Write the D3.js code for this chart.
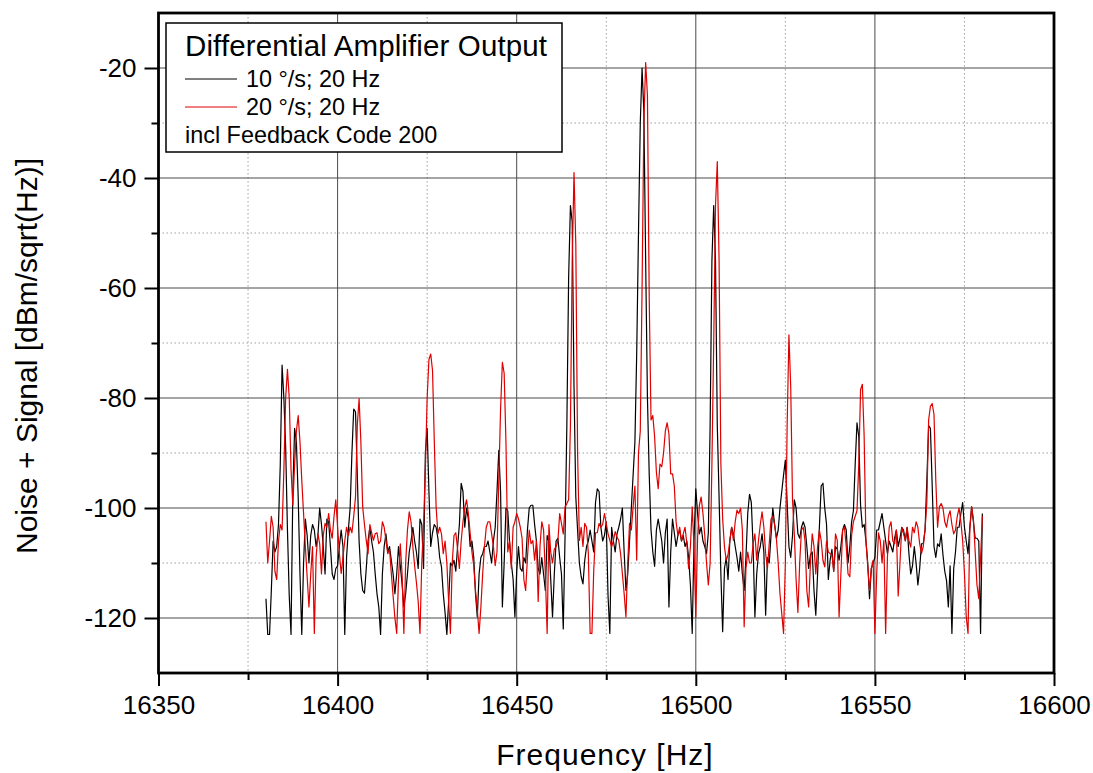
<!DOCTYPE html>
<html>
<head>
<meta charset="utf-8">
<script src="https://cdn.jsdelivr.net/npm/d3@7"></script>
<style>
  html, body { margin: 0; padding: 0; background: #fff; }
  svg { display: block; font-family: Arial, "Liberation Sans", sans-serif; }
</style>
</head>
<body>
<svg id="chart" width="1093" height="773"></svg>
<script>
// ---------------- data ----------------
const freqStart = 16380;   // Hz, first sample
const freqStep = 0.5;      // Hz between samples

const seriesNames = ["10 °/s; 20 Hz", "20 °/s; 20 Hz"];
const seriesColors = ["#000000", "#e00000"];

const black10 = [
-116.5,-123,-123,-115,-106,-108,-107,-103,-92,-74,
-80,-89,-104,-116,-123,-97,-85.5,-88,-98,-112,
-123,-110,-102,-105,-110,-105,-103,-104,-107,-105,
-100,-103,-107,-112,-102,-102.5,-107,-112,-113,-111,
-110.5,-107,-104,-107,-123,-109,-104,-100,-90,-82,
-82.5,-94,-106,-112,-115,-115.5,-111,-106,-103.5,-106,
-108,-112,-115.6,-118,-123,-112,-107,-104.7,-108,-107,
-109.5,-112,-115.6,-112,-107,-110.5,-113.8,-118,-115.6,-112,
-108,-106,-103.5,-106,-108,-111,-102,-103,-111,-90,
-85.5,-97,-107,-104.5,-103,-103.5,-105.5,-109,-110.7,-115.6,
-119,-123,-117,-110,-110.5,-109.5,-111.5,-107,-103,-95.5,
-97,-103.5,-100,-102,-107,-106,-108.9,-115.6,-119.8,-112,
-109,-108.3,-107,-107,-106,-108,-110,-106,-103.5,-97,
-89.5,-97,-118,-110,-100,-100.5,-106,-110,-113,-119.8,
-111.5,-107,-111,-111.5,-109,-110,-104,-100,-99.5,-99.5,
-103,-106,-111,-112,-109,-112,-115,-105,-106,-113,
-119.8,-112,-106,-105.5,-109,-112,-122,-105,-85,-58,
-45,-48,-78,-98,-104,-110,-112.5,-113.8,-109.5,-107,
-106,-104,-106,-108,-99,-96.5,-97,-103.5,-106,-105,
-102.5,-116,-122.8,-103.5,-106,-108,-104.7,-103.5,-102,-100,
-108,-115,-112,-106,-100,-94,-88,-72,-50,-30,
-20,-28,-55,-80,-94,-104,-108,-110.6,-104,-102,
-104,-106,-110,-104.5,-102,-118,-108,-102,-104.5,-107,
-105,-104,-106,-105,-107,-106,-109,-114,-122.8,-106,
-96.5,-101,-104.7,-103.5,-106,-107,-108.3,-104.5,-85,-55,
-45,-55,-85,-98,-112,-122.5,-111,-109,-113,-106,
-103.5,-104.7,-107,-109,-111.5,-108,-112,-115,-109,-101,
-97.5,-99,-107,-119.8,-112,-108.3,-107,-104.7,-108,-119.5,
-109,-110,-105,-100,-103,-105.5,-104,-100,-97,-94,
-91.3,-99,-107,-109,-105,-98.5,-100,-104.7,-105.5,-103.5,
-102.5,-103.5,-107,-111,-108.5,-108,-115,-119.5,-112,-103.5,
-96,-95.5,-100,-103,-113,-109.5,-107.5,-111.5,-107,-107.5,
-109.5,-107,-104,-103,-104,-110,-107,-102.5,-100.5,-92,
-84.5,-87,-99.5,-103.5,-103,-106,-110,-116.5,-111,-110,
-109,-104,-104,-102.5,-101,-103.5,-106,-108.3,-106,-107,
-108,-105.5,-104,-107,-105.5,-103.5,-104,-106,-103.5,-108.3,
-112,-110.5,-107,-110,-114,-111,-106.5,-106.5,-104,-95,
-85,-85.5,-96,-107,-109,-106.5,-107,-104.7,-108.5,-111.5,
-113.2,-118,-110.5,-122.8,-111,-108,-103.5,-103.5,-101,-99,
-103.5,-106,-108.3,-103.5,-99.8,-102.5,-105.5,-105.5,-106,-122.8,
-101
];

const red20 = [
-102.5,-110,-106,-101.5,-103.5,-111.5,-113,-106,-103,-104,
-93,-80,-74.8,-80,-93,-99.5,-92,-86,-83.2,-88,
-95,-101,-107,-112.5,-118,-112,-107,-122.8,-109,-104.7,
-106.5,-112,-105,-102.8,-103.5,-101,-104,-105.5,-101.5,-98.5,
-103.5,-108.3,-111.9,-109,-106,-103.5,-105,-103.5,-104.5,-101.5,
-98,-85,-80.1,-88,-99.8,-103,-105.9,-108.3,-103,-104.5,
-105.9,-104.7,-104.5,-106.5,-106,-102.5,-103.5,-105.9,-108.3,-107.5,
-111.9,-116,-120,-122.8,-113,-106.5,-112,-122.8,-110,-104,
-100.7,-102.5,-107,-110.5,-113.5,-117,-122.8,-110,-103,-93,
-80,-73,-72,-75,-88,-99.8,-104.7,-103.5,-104.7,-108.3,
-106,-110,-117,-122.8,-110,-105,-104.5,-107.5,-111,-106,
-102.5,-100,-98.5,-101,-104.5,-108,-110.5,-115,-118.5,-122.8,
-118,-112,-107,-103.5,-102.5,-102.5,-104.7,-107,-110.5,-108,
-95,-82,-73.5,-75.5,-88,-108,-106,-111,-103.5,-102.5,
-101,-102,-103.5,-105.5,-113,-115,-109,-104,-106.5,-105.9,
-109.5,-106,-117,-107,-102.5,-104,-112,-122.8,-103,-108,
-110,-107.5,-107,-106,-101,-102.8,-104.7,-99.8,-99.2,-98.5,
-85,-55,-39,-52,-90,-105.9,-103.5,-107,-102.8,-103.5,
-108.3,-122.8,-122.8,-111.5,-104.5,-104.5,-102.8,-103.5,-103,-101,
-102.8,-104.7,-105.9,-107.1,-105.9,-104.3,-105.3,-105.9,-108.3,-111.9,
-115.6,-119.8,-110,-102.8,-104,-99.8,-96,-109.5,-90,-86,
-60,-30,-19,-25,-62,-84,-83.2,-87,-93.5,-96.5,
-92,-92.5,-90,-86,-84.5,-86.5,-93.8,-93.8,-96,-102.5,
-105,-103.5,-106,-104.7,-103.5,-106.5,-111,-107,-99.8,-107,
-119.8,-105.5,-99.5,-98,-101,-105,-110,-114,-110,-92,
-70,-45,-37,-55,-92,-102,-107,-109.5,-108.5,-105.9,
-103.5,-105.9,-102.5,-100.4,-101,-100,-104,-121.6,-111,-108,
-110,-110,-106.5,-104.7,-109.5,-105.9,-103,-100.7,-103.5,-108.3,
-111,-106.5,-102,-101.5,-103,-105.5,-110,-115.6,-119.2,-122.8,
-110,-85,-68.5,-78,-98.5,-104.7,-113,-119,-110,-104,
-103.5,-106,-115,-118,-110,-104.7,-107,-112,-107,-104,
-105.9,-109.5,-110.7,-106,-108,-108.3,-108.5,-111.5,-104.7,-105.9,
-119.8,-112,-104,-103.5,-107,-112,-112.5,-105,-102.5,-101.5,
-100.5,-92,-78.5,-77.5,-87,-105.9,-110.5,-115,-111,-109.5,
-122.8,-112,-104.5,-106,-110,-105.9,-122.8,-108.9,-103.5,-102.5,
-106,-106.5,-104,-116,-110,-103.5,-104.7,-105.9,-103.5,-105.9,
-107.1,-103.5,-104.5,-102.5,-103.5,-106.5,-108.3,-107,-104,-99,
-84,-81.5,-81,-83,-95,-103.5,-99.8,-99.2,-100,-102.5,
-103.5,-101.5,-100.5,-103,-104.7,-104,-101.5,-100,-102.5,-105.9,
-111.9,-119.8,-122.8,-104,-99.8,-102,-108,-114,-116.5,-109,
-101.5
];

const xTicks = [16350, 16400, 16450, 16500, 16550, 16600];
const xMinorTicks = [16375, 16425, 16475, 16525, 16575];
const yTicks = [-120, -100, -80, -60, -40, -20];
const yMinorTicks = [-110, -90, -70, -50, -30];

const xTitle = "Frequency [Hz]";
const yTitle = "Noise + Signal [dBm/sqrt(Hz)]";
const legendTitle = "Differential Amplifier Output";
const legendNote = "incl Feedback Code 200";

// ---------------- layout ----------------
const svg = d3.select("#chart");
const L = 158.5, R = 1054, T = 13, B = 673;

const x = d3.scaleLinear().domain([16350, 16600]).range([L, R]);
const y = d3.scaleLinear().domain([-130, -10]).range([B, T]);

// grid: minor dotted
const grid = svg.append("g");
grid.selectAll("line.xminor").data(xMinorTicks).join("line")
  .attr("x1", d => x(d)).attr("x2", d => x(d)).attr("y1", T).attr("y2", B)
  .attr("stroke", "#a0a0a0").attr("stroke-width", 1).attr("stroke-dasharray", "1.5,2.5");
grid.selectAll("line.yminor").data(yMinorTicks).join("line")
  .attr("x1", L).attr("x2", R).attr("y1", d => y(d)).attr("y2", d => y(d))
  .attr("stroke", "#a0a0a0").attr("stroke-width", 1).attr("stroke-dasharray", "1.5,2.5");
// grid: major solid
grid.selectAll("line.xmajor").data(xTicks.slice(1, -1)).join("line")
  .attr("x1", d => x(d)).attr("x2", d => x(d)).attr("y1", T).attr("y2", B)
  .attr("stroke", "#4a4a4a").attr("stroke-width", 1);
grid.selectAll("line.ymajor").data(yTicks).join("line")
  .attr("x1", L).attr("x2", R).attr("y1", d => y(d)).attr("y2", d => y(d))
  .attr("stroke", "#4a4a4a").attr("stroke-width", 1);

// series
const freqs = black10.map((_, i) => freqStart + i * freqStep);
const line = d3.line().x((d, i) => x(freqs[i])).y(d => y(d));
[black10, red20].forEach((s, k) => {
  svg.append("path").datum(s)
    .attr("d", line)
    .attr("fill", "none")
    .attr("stroke", seriesColors[k])
    .attr("stroke-width", 1.2)
    .attr("stroke-linejoin", "round");
});

// axes
const font = 'Arial, "Liberation Sans", sans-serif';
const xAxis = svg.append("g").attr("transform", `translate(0,${B})`)
  .call(d3.axisBottom(x).tickValues(xTicks).tickSize(13).tickPadding(10).tickFormat(d3.format("d")));
const xAxisMinor = svg.append("g").attr("transform", `translate(0,${B})`)
  .call(d3.axisBottom(x).tickValues(xMinorTicks).tickSize(7).tickFormat(""));
const yAxis = svg.append("g").attr("transform", `translate(${L},0)`)
  .call(d3.axisLeft(y).tickValues(yTicks).tickSize(14).tickPadding(8).tickFormat(d => String(d)));
const yAxisMinor = svg.append("g").attr("transform", `translate(${L},0)`)
  .call(d3.axisLeft(y).tickValues(yMinorTicks).tickSize(7).tickFormat(""));
[xAxis, xAxisMinor, yAxis, yAxisMinor].forEach(g => {
  g.select(".domain").remove();
  g.selectAll(".tick line").attr("stroke", "#000").attr("stroke-width", 2);
  g.selectAll("text").attr("fill", "#000").attr("font-size", 26).attr("font-family", font);
});

// frame
svg.append("rect").attr("x", L).attr("y", T).attr("width", R - L).attr("height", B - T)
  .attr("fill", "none").attr("stroke", "#000").attr("stroke-width", 2.8);

// axis titles
svg.append("text").attr("x", 605).attr("y", 765).attr("text-anchor", "middle")
  .attr("font-size", 30).attr("letter-spacing", 1).attr("font-family", font).text(xTitle);
svg.append("text").attr("transform", "translate(37,356) rotate(-90)").attr("text-anchor", "middle")
  .attr("font-size", 30).attr("font-family", font).text(yTitle);

// legend
const lg = svg.append("g");
lg.append("rect").attr("x", 166).attr("y", 23).attr("width", 396).attr("height", 129)
  .attr("fill", "#fff").attr("stroke", "#000").attr("stroke-width", 1.5);
lg.append("text").attr("x", 185).attr("y", 56).attr("font-size", 29.5).attr("font-family", font)
  .attr("textLength", 362).text(legendTitle);
seriesNames.forEach((n, k) => {
  const yy = 79 + k * 28;
  lg.append("line").attr("x1", 185).attr("x2", 237).attr("y1", yy).attr("y2", yy)
    .attr("stroke", seriesColors[k]).attr("stroke-width", 1);
  lg.append("text").attr("x", 246).attr("y", yy + 7.5).attr("font-size", 23.4)
    .attr("font-family", font).text(n);
});
lg.append("text").attr("x", 185).attr("y", 142.5).attr("font-size", 23.4)
  .attr("font-family", font).text(legendNote);
</script>
</body>
</html>
